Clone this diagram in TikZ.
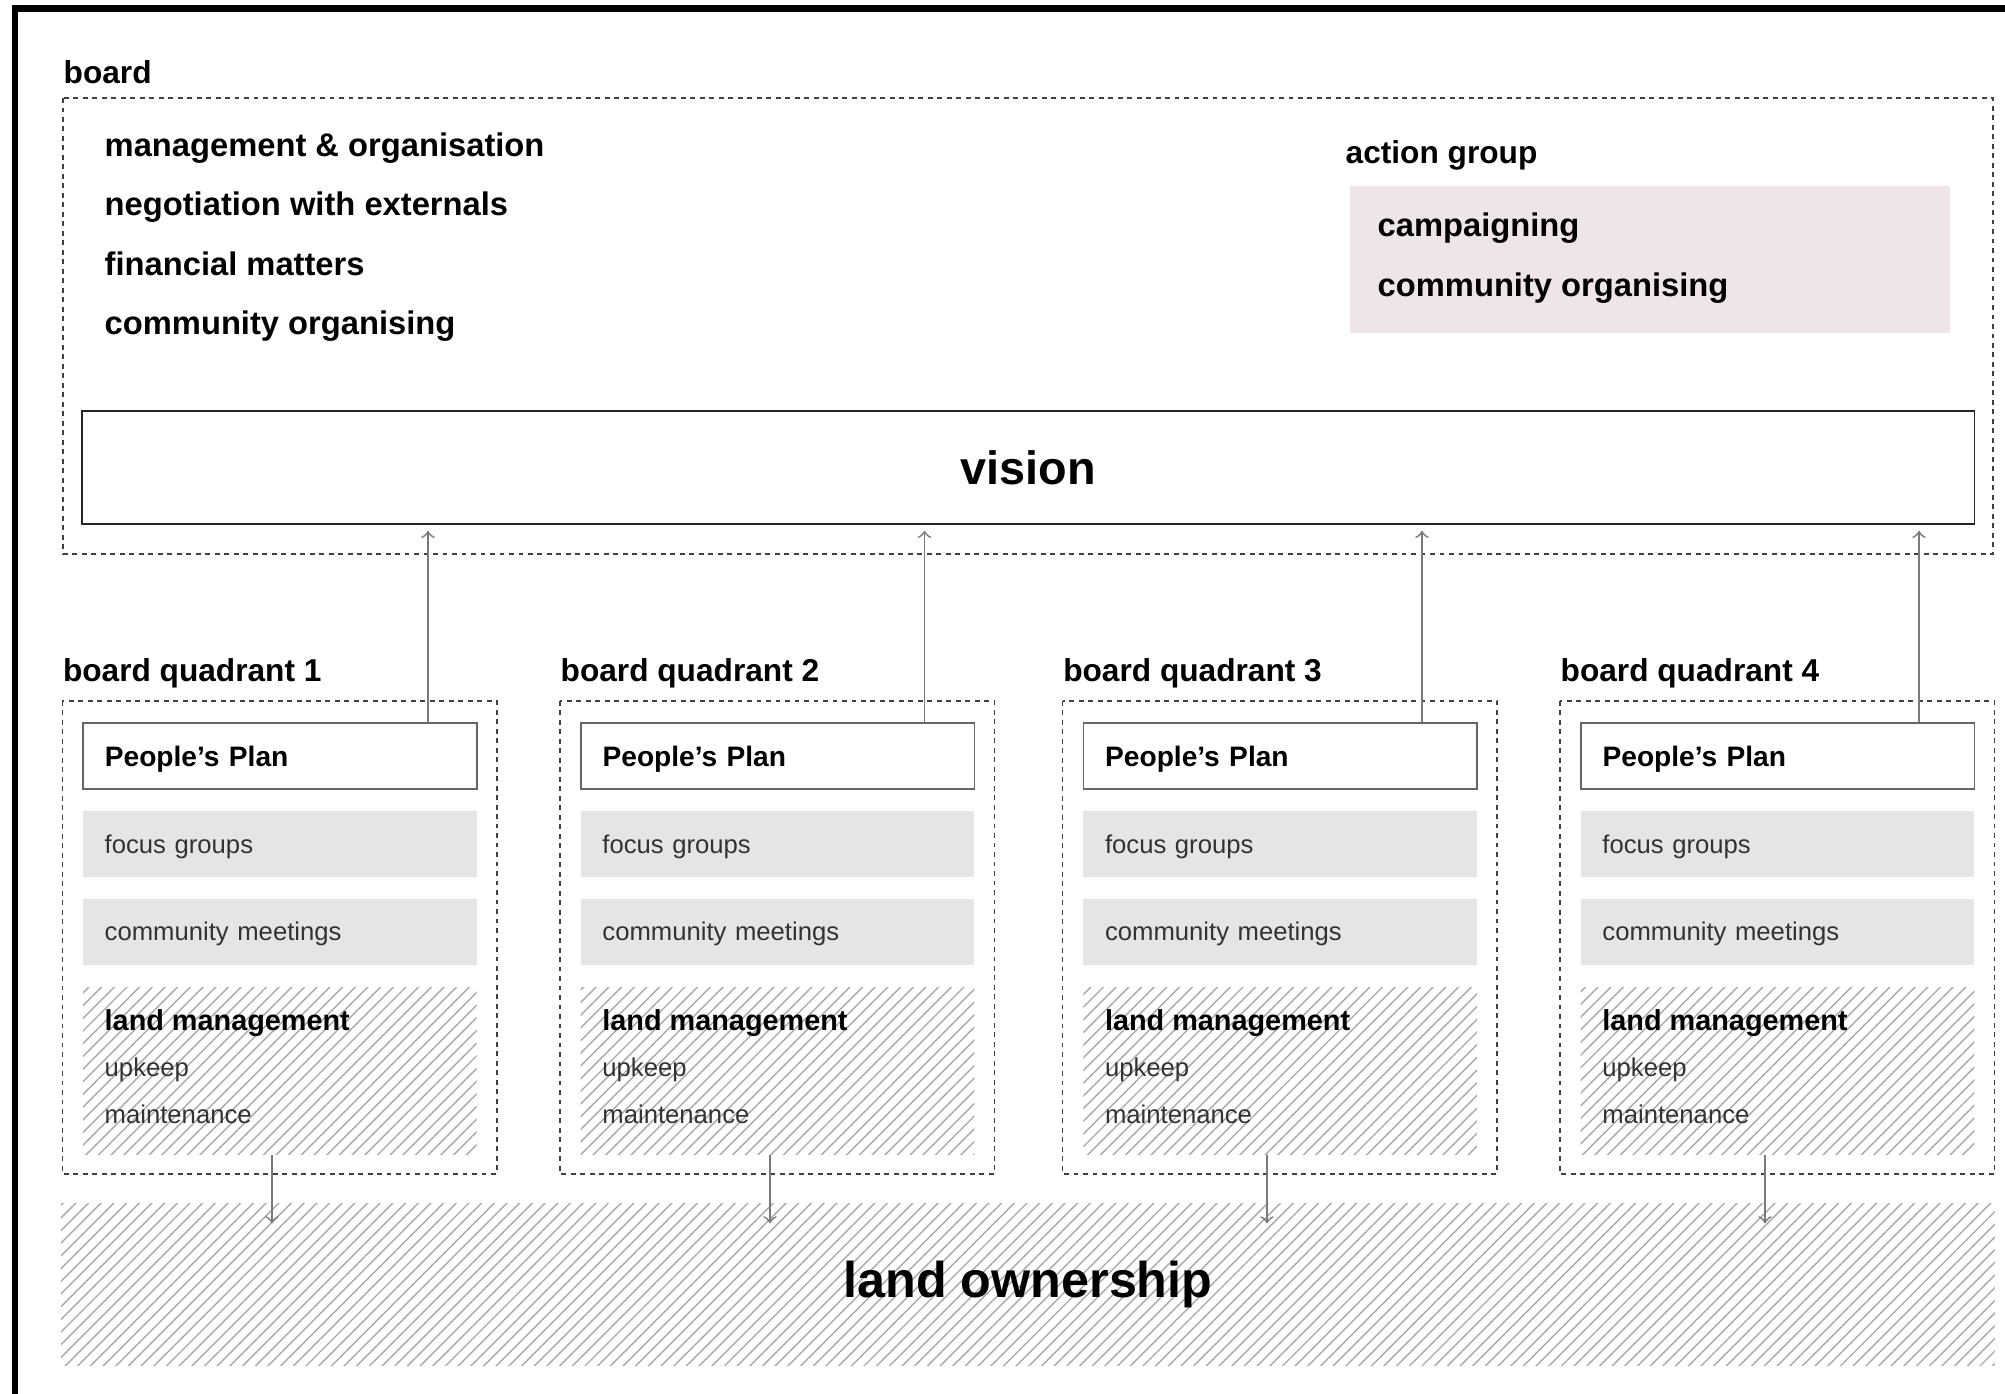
\documentclass[tikz,border=0pt]{standalone}
\usepackage{fontspec}
\setmainfont{Liberation Sans}
\usepackage{tikz}
\usetikzlibrary{patterns.meta}
\definecolor{actionBg}{HTML}{EFE4E7}
\definecolor{stepBg}{HTML}{E5E5E5}
\definecolor{hatchGray}{HTML}{A8A8A8}
\definecolor{lineGray}{HTML}{7A7A7A}
\definecolor{softText}{HTML}{333333}

\begin{document}
\begin{tikzpicture}[x=0.01cm, y=-0.01cm,
    grouplabel/.style={font=\fontsize{9pt}{11pt}\selectfont\bfseries, inner sep=0pt},
    tasklist/.style={font=\fontsize{9.3pt}{16.85pt}\selectfont\bfseries, align=left, inner sep=0pt},
    dashbox/.style={dash pattern=on 1.4pt off 1.3pt, line width=0.45pt, draw=black!75},
    planbox/.style={draw=black!60, line width=0.5pt, minimum width=3.934cm, minimum height=0.66cm,
        text width=3.5cm, inner xsep=0.217cm, align=left, text height=5.73pt, text depth=0pt,
        font=\fontsize{8pt}{10pt}\selectfont\bfseries},
    stepbox/.style={fill=stepBg, minimum width=3.934cm, minimum height=0.66cm,
        text width=3.5cm, inner xsep=0.217cm, align=left, text height=5.23pt, text depth=0pt,
        font=\fontsize{7.3pt}{9pt}\selectfont, text=softText},
    landtext/.style={font=\fontsize{7.3pt}{13.2pt}\selectfont, text=softText, align=left, inner sep=0pt},
    hatched/.style={pattern={Lines[angle=45, distance=2.55pt, line width=0.4pt]}, pattern color=hatchGray},
    flow/.style={->, draw=lineGray, line width=0.5pt}]
    \useasboundingbox (0,0) rectangle (2005,1393);

    % outer frame
    \draw[line width=1.9pt] (15,1400) -- (15,8.3) -- (2010,8.3);

    % board (multi-line nodes: base = last line)
    \node[grouplabel, anchor=base west] (boardlbl) at (63,83) {board};
    \draw[dashbox] (63,98) rectangle (1993,554);
    \node[tasklist, anchor=base west] (tasks) at (104,334.4) {management \& organisation\\ negotiation with externals\\ financial matters\\ community organising};

    \node[grouplabel, anchor=base west] (actionlbl) at (1345,163) {action group};
    \node[fill=actionBg, minimum width=6cm, minimum height=1.475cm, inner sep=0pt, anchor=north west] (actionbox) at (1349,185) {};
    \node[tasklist, anchor=base west] (actions) at (1377,296) {campaigning\\ community organising};

    \node[draw=black!85, line width=0.5pt, minimum width=18.917cm, minimum height=1.136cm, inner sep=0pt,
        font=\fontsize{13.3pt}{16pt}\selectfont\bfseries] (vision) at (1028.15,467.5) {vision};

    % land ownership
    \node[hatched, minimum width=19.326cm, minimum height=1.61cm, inner sep=0pt,
        font=\fontsize{14.3pt}{17pt}\selectfont\bfseries] (own) at (1028,1284.5) {land ownership};

    % quadrants
    \foreach \i/\qx/\ux/\dx in {1/62.3/428/272, 2/560/924.5/770, 3/1062.6/1422/1267, 4/1560/1919/1765} {
        \node[grouplabel, anchor=base west] (qlbl\i) at (\qx,681.7) {board quadrant \i};
        \draw[dashbox] (\qx,700.7) rectangle ++(434.5,473.3);
        \node[planbox, anchor=north west] (plan\i) at ({\qx+20},722.3) {People’s Plan};
        \node[stepbox, anchor=north west] (focus\i) at ({\qx+20},810.7) {focus groups};
        \node[stepbox, anchor=north west] (meet\i) at ({\qx+20},898) {community meetings};
        \node[hatched, minimum width=3.934cm, minimum height=1.663cm, inner sep=0pt, anchor=north west] (land\i) at ({\qx+20},987) {};
        \node[landtext, anchor=base west] (landtxt\i) at ({\qx+41.7},1123.3)
            {{\color{black}\bfseries\fontsize{8.2pt}{13.2pt}\selectfont land management}\\ upkeep\\ maintenance};
        \coordinate (up\i) at (\ux,0);
        \coordinate (dn\i) at (\dx,0);
        \draw[flow, shorten >=1.6pt] (plan\i.north -| up\i) -- (vision.south -| up\i);
        \draw[flow, shorten >=-5.7pt] (land\i.south -| dn\i) -- (own.north -| dn\i);
    }
\end{tikzpicture}
\end{document}
